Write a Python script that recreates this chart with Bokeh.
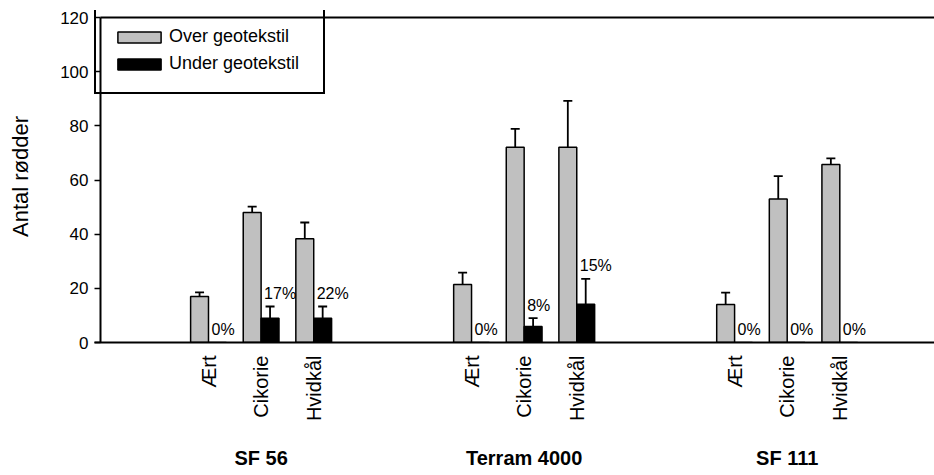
import numpy as np
from bokeh.plotting import figure
from bokeh.models import (ColumnDataSource, FixedTicker, LinearAxis, Legend,
                          LegendItem, Whisker, TeeHead, Range1d)
from bokeh.core.properties import value
from bokeh.embed import file_html
from bokeh.resources import INLINE

# ---------------- data ----------------
groups = ["SF 56", "Terram 4000", "SF 111"]
plants = ["Ært", "Cikorie", "Hvidkål"]
over = [17.0, 48.0, 38.3, 21.4, 72.1, 72.1, 14.0, 53.0, 65.7]
over_err = [1.5, 2.2, 6.0, 4.4, 6.8, 17.1, 4.4, 8.4, 2.3]
under = [0.0, 9.0, 9.0, 0.0, 5.9, 14.1, 0.0, 0.0, 0.0]
under_err = [0.0, 4.3, 4.3, 0.0, 3.1, 9.4, 0.0, 0.0, 0.0]
pct = ["0%", "17%", "22%", "0%", "8%", "15%", "0%", "0%", "0%"]
y_ticks = [0, 20, 40, 60, 80, 100, 120]
series_names = ["Over geotekstil", "Under geotekstil"]

FONT = "Liberation Sans"
GROUP_STEP = 5
BW = 0.34

x_cat = [g * GROUP_STEP + c for g in range(len(groups)) for c in range(len(plants))]
cat_labels = [pl for _ in groups for pl in plants]
x_group = [g * GROUP_STEP + (len(plants) - 1) / 2 for g in range(len(groups))]

x_over = [x - BW / 2 for x in x_cat]
x_under = [x + BW / 2 for x in x_cat]

# plot frame: x from 94px to 934px, y from 10px to 342px; the value axis
# line sits at 100px and the 120 line at 17px (legend box pokes out of it)
X0, X1 = -2.167, 13.8
X_AXIS = -2.053
Y_TOP = max(y_ticks)
Y1 = Y_TOP * 332.0 / 325.0

p = figure(width=934, height=475, output_backend="svg", toolbar_location=None,
           x_range=Range1d(X0, X1), y_range=Range1d(0, Y1),
           min_border_left=94, min_border_right=0, min_border_top=10,
           min_border_bottom=133, x_axis_location=None, y_axis_location="left")
p.outline_line_color = None
p.xgrid.visible = False
p.ygrid.visible = False
p.background_fill_color = "white"
p.border_fill_color = "white"

src_over = ColumnDataSource(dict(x=x_over, top=over))
src_under = ColumnDataSource(dict(x=x_under, top=under))

r1 = p.vbar(x="x", top="top", bottom=0, width=BW, source=src_over,
            fill_color="#C0C0C0", line_color="black", line_width=1.5)
r2 = p.vbar(x="x", top="top", bottom=0, width=BW, source=src_under,
            fill_color="black", line_color="black", line_width=1.5)

# error bars (upper only)
w_over = ColumnDataSource(dict(base=x_over, lower=over,
                               upper=[v + e for v, e in zip(over, over_err)]))
keep = [i for i, e in enumerate(under_err) if e > 0]
w_under = ColumnDataSource(dict(base=[x_under[i] for i in keep],
                                lower=[under[i] for i in keep],
                                upper=[under[i] + under_err[i] for i in keep]))
for src in (w_over, w_under):
    p.add_layout(Whisker(source=src, base="base", lower="lower", upper="upper",
                         dimension="height", line_color="black", line_width=1.8,
                         upper_head=TeeHead(size=9, line_color="black", line_width=1.8),
                         lower_head=None))

# percentage labels
label_y = [u + e for u, e in zip(under, under_err)]
p.text(x=x_cat, y=label_y, text=pct, text_align="left", text_baseline="alphabetic",
       x_offset=3, y_offset=-13, text_font=value(FONT), text_font_size="16px",
       text_color="black")

# axis line of the value axis and the top frame line
p.segment(x0=[X_AXIS, X_AXIS], y0=[0, Y_TOP], x1=[X_AXIS, X1], y1=[Y_TOP, Y_TOP],
          line_color="black", line_width=2)

# y axis (ticks drawn from 94 to 100 px)
ya = p.yaxis[0]
ya.ticker = FixedTicker(ticks=y_ticks)
ya.axis_line_color = None
ya.major_tick_line_width = 1.5
ya.major_tick_line_color = "black"
ya.major_tick_out = 0
ya.major_tick_in = 6
ya.minor_tick_line_color = None
ya.major_label_text_font = FONT
ya.major_label_text_font_size = "17px"
ya.major_label_text_color = "black"
ya.major_label_standoff = 6
ya.axis_label = "Antal rødder"
ya.axis_label_text_font = FONT
ya.axis_label_text_font_size = "22px"
ya.axis_label_text_font_style = "normal"
ya.axis_label_text_color = "black"
ya.axis_label_standoff = 24

# category axis
xa = LinearAxis(ticker=FixedTicker(ticks=x_cat),
                major_label_overrides={x: lab for x, lab in zip(x_cat, cat_labels)},
                major_label_orientation=np.pi / 2)
xa.axis_line_width = 2
xa.axis_line_color = "black"
xa.major_tick_line_color = None
xa.major_tick_out = 0
xa.major_tick_in = 0
xa.minor_tick_line_color = None
xa.major_label_standoff = 13
xa.major_label_text_font = FONT
xa.major_label_text_font_size = "20px"
xa.major_label_text_color = "black"
p.add_layout(xa, "below")

# group axis
xg = LinearAxis(ticker=FixedTicker(ticks=x_group),
                major_label_overrides={x: lab for x, lab in zip(x_group, groups)})
xg.axis_line_color = None
xg.major_tick_line_color = None
xg.major_tick_out = 0
xg.major_tick_in = 0
xg.minor_tick_line_color = None
xg.major_label_standoff = 22
xg.major_label_text_font = FONT
xg.major_label_text_font_size = "20px"
xg.major_label_text_font_style = "bold"
xg.major_label_text_color = "black"
p.add_layout(xg, "below")

legend = Legend(items=[LegendItem(label=series_names[0], renderers=[r1]),
                       LegendItem(label=series_names[1], renderers=[r2])],
                location=(0, 248), orientation="vertical",
                border_line_color="black", border_line_width=2, border_line_alpha=1,
                background_fill_alpha=0, padding=16, spacing=2, margin=0,
                glyph_width=54, glyph_height=14, label_height=25,
                label_width=138, label_standoff=3,
                label_text_font=FONT, label_text_font_size="18px",
                label_text_color="black")
p.add_layout(legend, "center")

open("out.html", "w").write(file_html(p, INLINE))
